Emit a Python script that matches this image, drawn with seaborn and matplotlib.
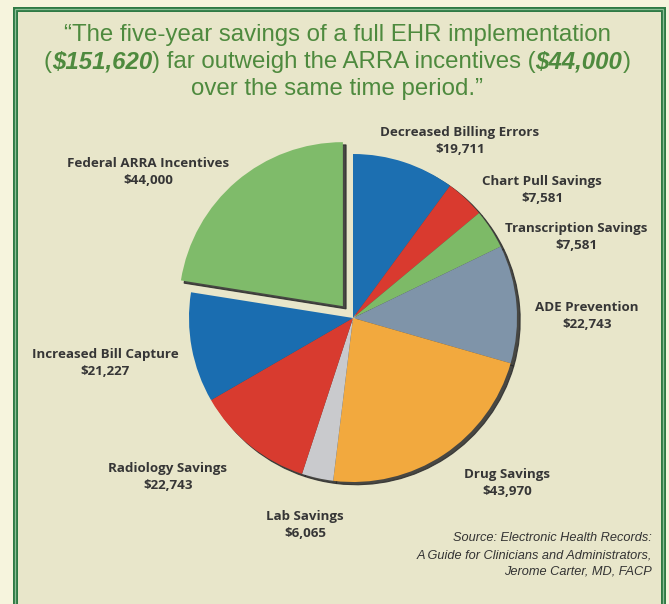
import matplotlib
matplotlib.use("Agg")
import matplotlib.pyplot as plt
import seaborn as sns
from matplotlib.patches import Rectangle

# data
categories = ["Decreased Billing Errors", "Chart Pull Savings", "Transcription Savings",
              "ADE Prevention", "Drug Savings", "Lab Savings", "Radiology Savings",
              "Increased Bill Capture", "Federal ARRA Incentives"]
values = [19711, 7581, 7581, 22743, 43970, 6065, 22743, 21227, 44000]
value_labels = ["$19,711", "$7,581", "$7,581", "$22,743", "$43,970", "$6,065",
                "$22,743", "$21,227", "$44,000"]
slice_colors = ["#1c6fb1", "#d93a2f", "#7dba67", "#7f94a9", "#f2a93e", "#c9cacd",
                "#d83b2f", "#1a6db0", "#7fbb6a"]

# label layout (pixel centers in the 669x604 picture)
label_pos = [(460, 141), (542, 190), (576, 237), (587, 316), (507, 483),
             (305, 525), (168, 477), (105, 363), (148, 172)]

W, H = 669, 604
sns.set_style("white")
plt.rcParams["font.family"] = ["Liberation Sans", "DejaVu Sans"]

fig = plt.figure(figsize=(W / 100, H / 100), dpi=100)
fig.patch.set_facecolor("#f6f4dd")


def fx(px):
    return px / W


def fy(py):
    return 1 - py / H


# panel with double green border
fig.patches.append(Rectangle((fx(15), fy(640)), fx(648), 631 / H, transform=fig.transFigure,
                             facecolor="#e8e6ca", edgecolor="#2f7a45", linewidth=3.6, zorder=-2))
fig.patches.append(Rectangle((fx(15), fy(640)), fx(648), 631 / H, transform=fig.transFigure,
                             facecolor="none", edgecolor="#8cbf95", linewidth=0.9, zorder=-1))

# pie
cx, cy, half = 353, 318, 200
R = 164
ax = fig.add_axes([fx(cx - half), fy(cy + half), 2 * half / W, 2 * half / H])
ax.set_facecolor("none")
explode = [0] * (len(values) - 1) + [0.095]
# shadow offset is in data units scaled by dpi/72
ax.pie(values, colors=sns.color_palette(slice_colors), startangle=90, counterclock=False,
       explode=explode, radius=1, wedgeprops=dict(linewidth=0),
       shadow={"ox": 0.014, "oy": -0.012, "facecolor": "#2b2b2b", "edgecolor": "#2b2b2b",
               "linewidth": 0.8, "alpha": 0.85})
lim = half / R
ax.set_xlim(-lim, lim)
ax.set_ylim(-lim, lim)
ax.set_aspect("equal")
ax.axis("off")

# slice labels
for name, val, (px, py) in zip(categories, value_labels, label_pos):
    fig.text(fx(px), fy(py), f"{name}\n{val}", ha="center", va="center", fontsize=9.6,
             fontweight="bold", color="#363636", linespacing=1.45,
             family=["Open Sans", "DejaVu Sans"])

# title with mixed styles
green = "#4e8a3e"
title_lines = [
    (41, [("\u201cThe five-year savings of a full EHR implementation", "normal", "normal")]),
    (68, [("(", "normal", "normal"), ("$151,620", "italic", "bold"),
          (") far outweigh the ARRA incentives (", "normal", "normal"),
          ("$44,000", "italic", "bold"), (")", "normal", "normal")]),
    (95, [("over the same time period.\u201d", "normal", "normal")]),
]
renderer = fig.canvas.get_renderer()
for base, parts in title_lines:
    texts = [fig.text(0, fy(base), s, fontsize=17.3, style=st, fontweight=wt, color=green,
                      ha="left", va="baseline") for s, st, wt in parts]
    widths = [t.get_window_extent(renderer).width for t in texts]
    x = 337 - sum(widths) / 2
    for t, w in zip(texts, widths):
        t.set_x(fx(x))
        x += w

# source
source = ["Source: Electronic Health Records:",
          "A Guide for Clinicians and Administrators,",
          "Jerome Carter, MD, FACP"]
for i, line in enumerate(source):
    fig.text(fx(652), fy(538 + 17 * i), line, ha="right", va="center", fontsize=9.2,
             style="italic", color="#333333")

fig.savefig("out.png", dpi=100, facecolor=fig.get_facecolor())
